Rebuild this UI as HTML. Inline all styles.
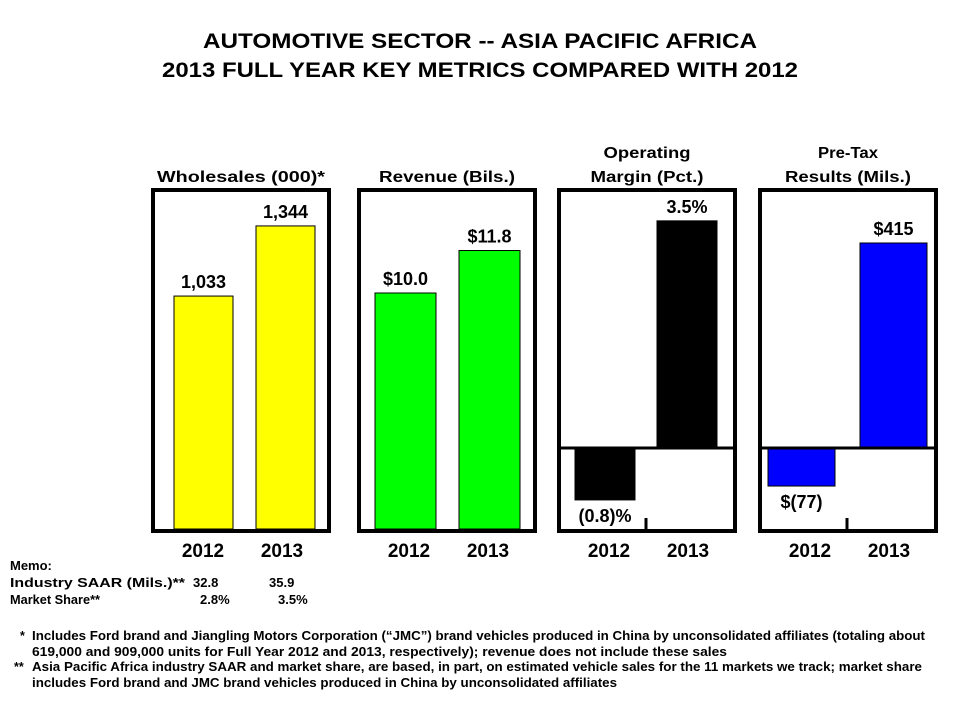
<!DOCTYPE html>
<html><head><meta charset="utf-8"><style>
body{margin:0;background:#fff;font-family:"Liberation Sans",Arial,sans-serif}
svg{display:block}
</style></head><body>
<svg id="c" width="960" height="720" xmlns="http://www.w3.org/2000/svg" font-family="Liberation Sans, Arial, sans-serif">
<text x="203" y="48" textLength="554" lengthAdjust="spacingAndGlyphs" font-size="21" font-weight="bold">AUTOMOTIVE SECTOR -- ASIA PACIFIC AFRICA</text>
<text x="162" y="77" textLength="636" lengthAdjust="spacingAndGlyphs" font-size="21" font-weight="bold">2013 FULL YEAR KEY METRICS COMPARED WITH 2012</text>
<g id="panels"></g>
<g font-size="13" font-weight="bold">
<text x="10" y="570">Memo:</text>
<text x="10" y="587" textLength="175" lengthAdjust="spacingAndGlyphs">Industry SAAR (Mils.)**</text><text x="193" y="587">32.8</text><text x="269" y="587">35.9</text>
<text x="10" y="604" textLength="90" lengthAdjust="spacingAndGlyphs">Market Share**</text><text x="200" y="604">2.8%</text><text x="278" y="604">3.5%</text>
</g>
<g font-size="12.5" font-weight="bold">
<text x="20" y="640">*</text><text x="32" y="640" textLength="893" lengthAdjust="spacingAndGlyphs">Includes Ford brand and Jiangling Motors Corporation (“JMC”) brand vehicles produced in China by unconsolidated affiliates (totaling about</text>
<text x="32" y="656" textLength="695" lengthAdjust="spacingAndGlyphs">619,000 and 909,000 units for Full Year 2012 and 2013, respectively); revenue does not include these sales</text>
<text x="14" y="671">**</text><text x="32" y="671" textLength="890" lengthAdjust="spacingAndGlyphs">Asia Pacific Africa industry SAAR and market share, are based, in part, on estimated vehicle sales for the 11 markets we track; market share</text>
<text x="32" y="687" textLength="585" lengthAdjust="spacingAndGlyphs">includes Ford brand and JMC brand vehicles produced in China by unconsolidated affiliates</text>
</g>
</svg>
<script>
const categories = ["2012","2013"];
const wholesales = [1033,1344];
const revenue = [10.0,11.8];
const margin = [-0.8,3.5];
const pretax = [-77,415];
const wholesaleLabels = ["1,033","1,344"];
const revenueLabels = ["$10.0","$11.8"];
const marginLabels = ["(0.8)%","3.5%"];
const pretaxLabels = ["$(77)","$415"];
const NS="http://www.w3.org/2000/svg";
const g=document.getElementById('panels');
function mk(t,a,txt){const e=document.createElementNS(NS,t);for(const k in a)e.setAttribute(k,a[k]);if(txt!==undefined)e.textContent=txt;g.appendChild(e);return e;}
const panels=[
 {name:'wholesales',x:151,w:180,title:['Wholesales (000)*'],tl:[168],vals:wholesales,labels:wholesaleLabels,color:'#ffff00',zero:529,scale:0.2255,bx:[23,105],bw:59,neg:false},
 {name:'revenue',x:357,w:180,title:['Revenue (Bils.)'],tl:[136],vals:revenue,labels:revenueLabels,color:'#00ff00',zero:529,scale:23.6,bx:[18,102],bw:61,neg:false},
 {name:'operating-margin',x:557,w:180,title:['Operating','Margin (Pct.)'],tl:[87,113],vals:margin,labels:marginLabels,color:'#000000',zero:448,scale:64.9,bx:[18,100],bw:60,neg:true},
 {name:'pretax-results',x:758,w:180,title:['Pre-Tax','Results (Mils.)'],tl:[60,126],vals:pretax,labels:pretaxLabels,color:'#0000ff',zero:448,scale:0.494,bx:[10,102],bw:67,neg:true}
];
panels.forEach(p=>{
 const box=mk('rect',{x:p.x+2,y:190,width:p.w-4,height:341,fill:'none',stroke:'#000','stroke-width':4});
 
 
 p.title.forEach((t,i)=>{
  const e=mk('text',{x:p.x+p.w/2,y:182-(p.title.length-1-i)*24,'text-anchor':'middle','font-size':16,'font-weight':'bold',textLength:p.tl[i],lengthAdjust:'spacingAndGlyphs'},t);
  
  
 });
 p.vals.forEach((v,i)=>{
  const h=Math.abs(v)*p.scale;
  const y=v>=0?p.zero-h:p.zero;
  const bx=p.x+p.bx[i];
  const r=mk('rect',{x:bx,y:y,width:p.bw,height:h,fill:p.color,stroke:'#000','stroke-width':1});
  
  
  const ly=v>=0?y-8:y+h+22;
  const l=mk('text',{x:bx+p.bw/2,y:ly,'text-anchor':'middle','font-size':18,'font-weight':'bold'},p.labels[i]);
  
  
  const c=mk('text',{x:p.x+(i===0?52:131),y:557,'text-anchor':'middle','font-size':19,'font-weight':'bold'},categories[i]);
  
  
 });
 if(p.neg){
  const z=mk('line',{x1:p.x+4,x2:p.x+p.w-4,y1:p.zero,y2:p.zero,stroke:'#000','stroke-width':3});
  
  
  const t=mk('line',{x1:p.x+89,x2:p.x+89,y1:518,y2:531,stroke:'#000','stroke-width':3});
  
  
 }
});
</script>
</body></html>
